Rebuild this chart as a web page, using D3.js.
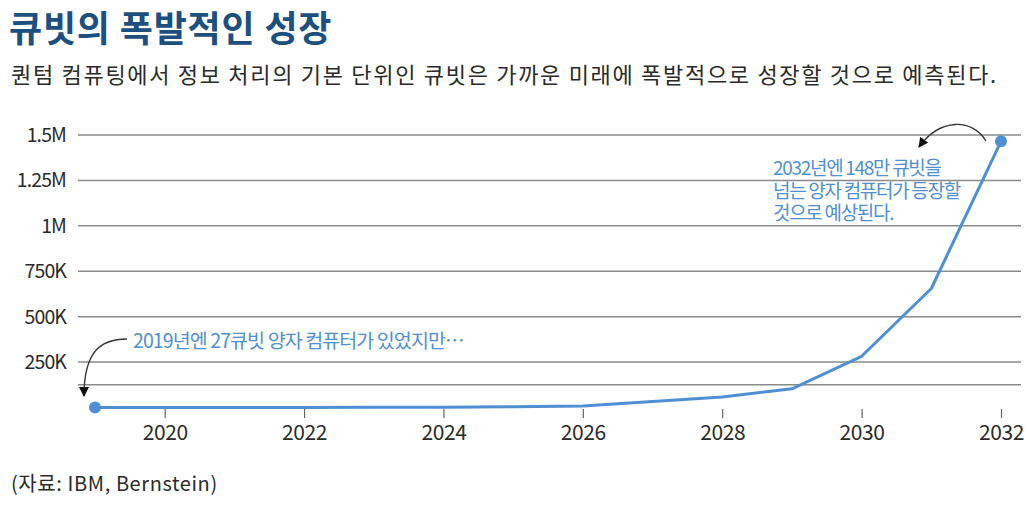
<!DOCTYPE html>
<html>
<head>
<meta charset="utf-8">
<script src="https://cdn.jsdelivr.net/npm/d3@7"></script>
<style>
  body { margin: 0; background: #fff; }
  text { font-family: "Noto Sans CJK KR", "Noto Sans", sans-serif; }
</style>
</head>
<body>
<div id="chart"></div>
<script>
// data
var years = [2019, 2020, 2021, 2022, 2023, 2024, 2025, 2026, 2027, 2028, 2029, 2030, 2031, 2032];
var qubits = [27, 65, 127, 433, 1121, 1386, 4158, 8000, 33000, 58000, 103000, 282000, 655000, 1465000];
var yTicks = [250000, 500000, 750000, 1000000, 1250000, 1500000];
var yTickLabels = ["250K", "500K", "750K", "1M", "1.25M", "1.5M"];
var extraGrid = [125000];
var xTicks = [2020, 2022, 2024, 2026, 2028, 2030, 2032];

var title = "큐빗의 폭발적인 성장";
var subtitle = "퀀텀 컴퓨팅에서 정보 처리의 기본 단위인 큐빗은 가까운 미래에 폭발적으로 성장할 것으로 예측된다.";
var note2019 = "2019년엔 27큐빗 양자 컴퓨터가 있었지만…";
var note2032 = ["2032년엔 148만 큐빗을", "넘는 양자 컴퓨터가 등장할", "것으로 예상된다."];
var source = "(자료: IBM, Bernstein)";

var width = 1029, height = 515;
var blue = "#4f8fd3";

var svg = d3.select("#chart")
    .append("svg")
    .attr("width", width)
    .attr("height", height);

var defs = svg.append("defs");
defs.append("marker")
    .attr("id", "head")
    .attr("viewBox", "0 0 10 10")
    .attr("refX", 9).attr("refY", 5)
    .attr("markerWidth", 10).attr("markerHeight", 10)
    .attr("markerUnits", "userSpaceOnUse")
    .attr("orient", "auto")
    .append("path")
    .attr("d", "M0,0 L10,5 L0,10 Z")
    .attr("fill", "#111");

var x = d3.scaleLinear().domain([2019, 2032]).range([95, 1001]);
var y = d3.scaleLinear().domain([0, 1500000]).range([407.5, 135]);

// title + subtitle
svg.append("text")
    .attr("x", 9).attr("y", 42)
    .attr("font-size", 36)
    .attr("font-weight", 700)
    .attr("letter-spacing", 0.8)
    .attr("fill", "#1d4f80")
    .text(title);

svg.append("text")
    .attr("x", 11).attr("y", 83)
    .attr("font-size", 22)
    .attr("letter-spacing", 1.7)
    .attr("fill", "#2a2a2a")
    .text(subtitle);

// grid lines
var grid = svg.append("g");
grid.selectAll("line")
    .data(yTicks.concat(extraGrid))
    .join("line")
    .attr("x1", 78).attr("x2", 1021)
    .attr("y1", d => y(d)).attr("y2", d => y(d))
    .attr("stroke", "#8a8a8a")
    .attr("stroke-width", 1.5);

// y labels
svg.append("g")
    .selectAll("text")
    .data(yTicks)
    .join("text")
    .attr("x", 66)
    .attr("y", d => y(d) + 7)
    .attr("text-anchor", "end")
    .attr("font-size", 19.5)
    .attr("letter-spacing", -0.9)
    .attr("fill", "#2a2a2a")
    .text((d, i) => yTickLabels[i]);

// x axis ticks
var xAxis = svg.append("g")
    .attr("transform", "translate(0," + 409 + ")")
    .call(d3.axisBottom(x).tickValues(xTicks).tickFormat(d3.format("d")).tickSize(9).tickPadding(7));
xAxis.select(".domain").remove();
xAxis.selectAll(".tick line").attr("stroke", "#666").attr("stroke-width", 1.2);
xAxis.selectAll(".tick text")
    .attr("font-family", "\"Noto Sans CJK KR\", sans-serif")
    .attr("font-size", 21)
    .attr("letter-spacing", -0.4)
    .attr("fill", "#2a2a2a");

// the line
var line = d3.line()
    .x((d, i) => x(years[i]))
    .y(d => y(d));

svg.append("path")
    .datum(qubits)
    .attr("d", line)
    .attr("fill", "none")
    .attr("stroke", blue)
    .attr("stroke-width", 3)
    .attr("stroke-linejoin", "round");

svg.append("g")
    .selectAll("circle")
    .data([0, years.length - 1])
    .join("circle")
    .attr("cx", i => x(years[i]))
    .attr("cy", i => y(qubits[i]))
    .attr("r", 6)
    .attr("fill", blue);

// annotation 2019
svg.append("text")
    .attr("x", 133).attr("y", 348)
    .attr("font-size", 19.5)
    .attr("letter-spacing", -0.9)
    .attr("fill", blue)
    .text(note2019);

svg.append("path")
    .attr("d", "M127,339 C100,339 84,352 84,396")
    .attr("fill", "none")
    .attr("stroke", "#333")
    .attr("stroke-width", 1.3)
    .attr("marker-end", "url(#head)");

// annotation 2032
svg.append("g")
    .selectAll("text")
    .data(note2032)
    .join("text")
    .attr("x", 773)
    .attr("y", (d, i) => 175 + i * 22.5)
    .attr("font-size", 19)
    .attr("letter-spacing", -1.3)
    .attr("fill", blue)
    .text(d => d);

svg.append("path")
    .attr("d", "M986,141 C972,118 940,118 919,147")
    .attr("fill", "none")
    .attr("stroke", "#333")
    .attr("stroke-width", 1.3)
    .attr("marker-end", "url(#head)");

// source
svg.append("text")
    .attr("x", 11).attr("y", 491)
    .attr("font-size", 20)
    .attr("letter-spacing", 0.6)
    .attr("fill", "#2a2a2a")
    .text(source);
</script>
</body>
</html>
